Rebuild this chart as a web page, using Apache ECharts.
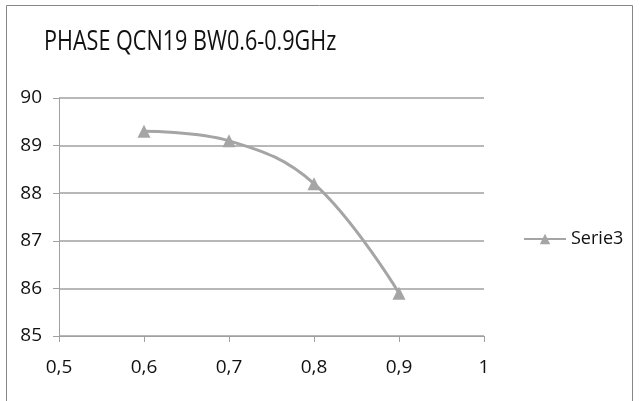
<!DOCTYPE html>
<html>
<head>
<meta charset="utf-8">
<script src="https://cdn.jsdelivr.net/npm/echarts@6/dist/echarts.min.js"></script>
<style>
  html, body { margin: 0; padding: 0; background: #fff; }
  #main { width: 640px; height: 401px; }
</style>
</head>
<body>
<div id="main"></div>
<script>
// frequency (GHz) vs phase
var freqs = [0.6, 0.7, 0.8, 0.9];
var phase = [89.3, 89.1, 88.2, 85.9];
var seriesName = 'Serie3';
var titleText = 'PHASE QCN19 BW0.6-0.9GHz';

var font = '"Open Sans", "Liberation Sans", sans-serif';
var grey = '#a5a5a5';
var axisGrey = '#a0a0a0';

var myChart = echarts.init(document.getElementById('main'));
myChart.setOption({
    animation: false,
    backgroundColor: '#fff',
    graphic: [{
        type: 'rect',
        shape: { x: 6.5, y: 5.5, width: 626, height: 400 },
        style: { fill: 'none', stroke: '#868686', lineWidth: 1 },
        silent: true
    }, {
        // title drawn as text with a narrow scale, like the condensed original face
        type: 'text',
        x: 44,
        y: 42,
        scaleX: 0.8,
        style: {
            text: titleText,
            font: '27px ' + font,
            fill: '#111',
            verticalAlign: 'middle'
        },
        silent: true
    }],
    legend: {
        data: [seriesName],
        left: 518,
        top: 225,
        itemWidth: 42,
        itemHeight: 13,
        itemGap: 4,
        textStyle: { fontFamily: font, fontSize: 18, color: '#111' }
    },
    grid: { left: 59, right: 156, top: 98, bottom: 65 },
    xAxis: {
        type: 'value',
        min: 0.5,
        max: 1,
        interval: 0.1,
        axisLine: { show: true, lineStyle: { color: axisGrey, width: 1 } },
        axisTick: { show: true, length: 6, lineStyle: { color: axisGrey } },
        splitLine: { show: false },
        axisLabel: {
            margin: 22,
            fontFamily: font, fontSize: 19, color: '#111',
            formatter: function (v) { return String(Math.round(v * 10) / 10).replace('.', ','); }
        }
    },
    yAxis: {
        type: 'value',
        min: 85,
        max: 90,
        interval: 1,
        axisLine: { show: true, lineStyle: { color: axisGrey, width: 1 } },
        axisTick: { show: true, length: 6, lineStyle: { color: axisGrey } },
        splitLine: { show: true, lineStyle: { color: axisGrey, width: 1.5 } },
        axisLabel: { margin: 17, fontFamily: font, fontSize: 19, color: '#111' }
    },
    series: [{
        name: seriesName,
        type: 'line',
        smooth: 0.4,
        data: freqs.map(function (f, i) { return [f, phase[i]]; }),
        symbol: 'triangle',
        symbolSize: 13,
        itemStyle: { color: grey },
        lineStyle: { color: grey, width: 3 }
    }]
});
</script>
</body>
</html>
